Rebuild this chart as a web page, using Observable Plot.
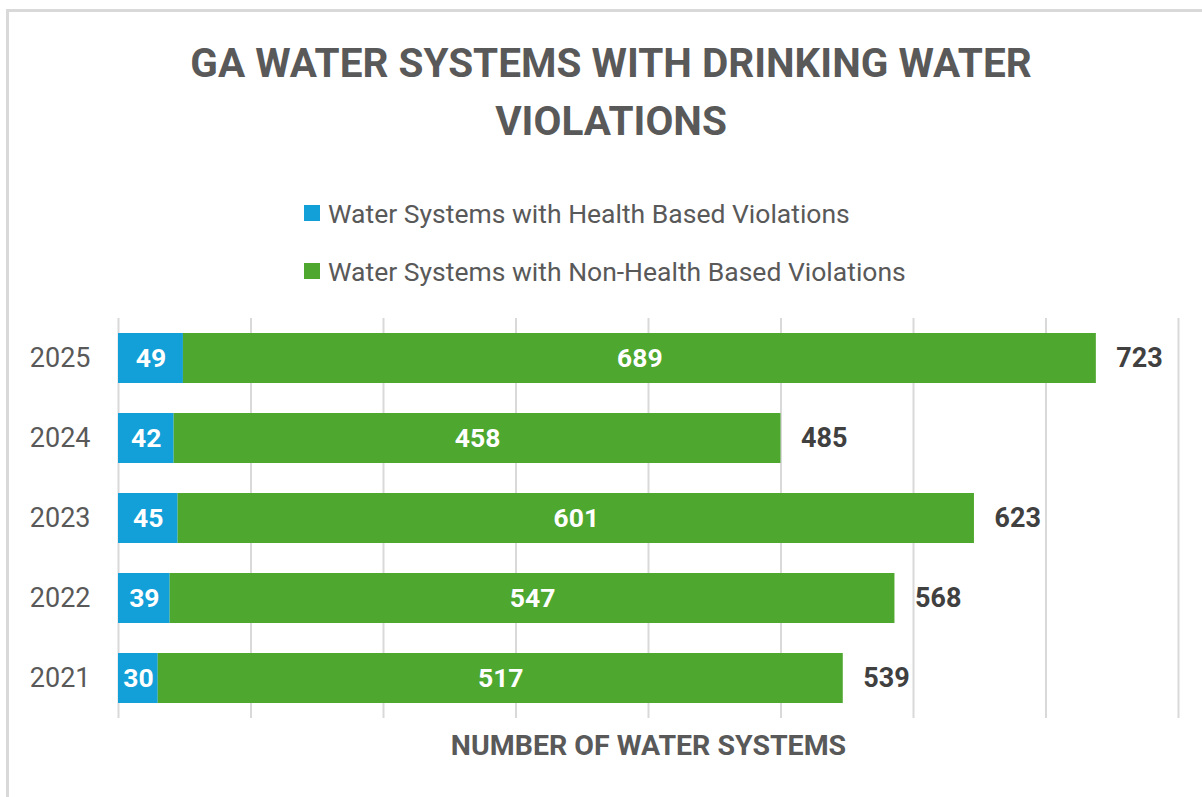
<!DOCTYPE html>
<html><head><meta charset="utf-8">
<script src="https://cdn.jsdelivr.net/npm/d3@7"></script>
<script src="https://cdn.jsdelivr.net/npm/@observablehq/plot@0.6"></script>
<style>
html,body{margin:0;padding:0;background:#fff;overflow:hidden;}
body{font-family:Roboto, "Open Sans", sans-serif;}
#wrap{position:relative;width:1202px;height:797px;overflow:hidden;}
#frame{position:absolute;left:6px;top:9px;right:-20px;bottom:-20px;border-top:3px solid #d9d9d9;border-left:3px solid #d9d9d9;}
#title{position:absolute;left:0;width:1222px;top:34px;text-align:center;font-weight:700;font-size:40.5px;line-height:58px;color:#595959;}
.leg{position:absolute;left:304px;height:30px;font-size:26.5px;color:#595959;display:flex;align-items:center;white-space:nowrap;}
.sw{width:16px;height:16px;margin-right:8px;flex:none;}
#chart{position:absolute;left:0;top:0;}
</style></head>
<body><div id="wrap"><div id="frame"></div>
<div id="title">GA WATER SYSTEMS WITH DRINKING WATER<br>VIOLATIONS</div>
<div id="legend"></div><div id="chart"></div></div>
<script>
const years = ["2025", "2024", "2023", "2022", "2021"];
const health = [49, 42, 45, 39, 30];
const nonHealth = [689, 458, 601, 547, 517];
const totals = [723, 485, 623, 568, 539];
const seriesNames = ["Water Systems with Health Based Violations", "Water Systems with Non-Health Based Violations"];
const seriesColors = ["#139fd8", "#4ea72e"];
const xTicks = [0, 100, 200, 300, 400, 500, 600, 700, 800];
const xLabel = "NUMBER OF WATER SYSTEMS";

// legend
const legend = document.getElementById("legend");
seriesNames.forEach((name, i) => {
  const item = document.createElement("div");
  item.className = "leg";
  item.style.top = (198 + i * 58) + "px";
  const sw = document.createElement("span");
  sw.className = "sw";
  sw.style.background = seriesColors[i];
  item.appendChild(sw);
  item.appendChild(document.createTextNode(name));
  legend.appendChild(item);
});

const long = [];
years.forEach((y, i) => {
  long.push({year: y, series: seriesNames[0], value: health[i]});
  long.push({year: y, series: seriesNames[1], value: nonHealth[i]});
});
const rows = years.map((y, i) => ({year: y, end: health[i] + nonHealth[i], total: totals[i]}));

const chart = Plot.plot({
  width: 1202,
  height: 797,
  marginLeft: 118,
  marginRight: 24,
  marginTop: 318,
  marginBottom: 79,
  style: {fontFamily: "Roboto, sans-serif", background: "transparent"},
  x: {domain: [0, 800], axis: null},
  y: {domain: years, paddingInner: 0.375, paddingOuter: 0.1875, axis: null},
  color: {domain: seriesNames, range: seriesColors},
  marks: [
    Plot.gridX(xTicks, {stroke: "#d9d9d9", strokeOpacity: 1, strokeWidth: 2}),
    Plot.barX(long, {y: "year", x: "value", fill: "series"}),
    Plot.text(long, Plot.stackX({y: "year", x: "value", text: "value", fill: "white", fontWeight: "bold", fontSize: 26.5})),
    Plot.text(rows, {y: "year", x: "end", text: "total", textAnchor: "start", dx: 20, fill: "#404040", fontWeight: "bold", fontSize: 27}),
    Plot.axisY({tickSize: 0, tickPadding: 28, fontSize: 27, color: "#595959", label: null}),
    Plot.text([xLabel], {frameAnchor: "bottom", dy: 27, lineAnchor: "middle", fontWeight: "bold", fontSize: 28.5, fill: "#595959"})
  ]
});
document.getElementById("chart").appendChild(chart);
</script>
</body></html>
